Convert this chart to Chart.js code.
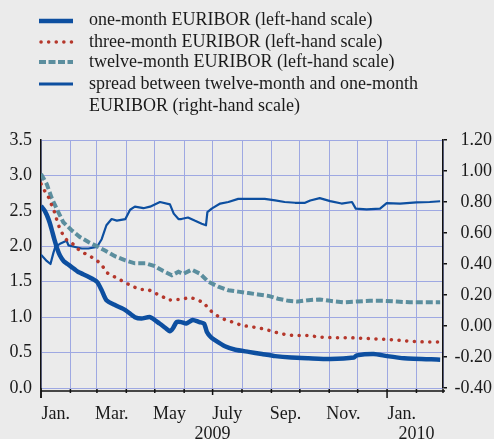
<!DOCTYPE html>
<html>
<head>
<meta charset="utf-8">
<script src="https://cdn.jsdelivr.net/npm/chart.js@4/dist/chart.umd.min.js"></script>
<style>
  html, body { margin: 0; padding: 0; background: #ebebeb; }
  #wrap { position: relative; width: 494px; height: 439px; overflow: hidden; }
  canvas { position: absolute; left: 0; top: 0; }
  .leg { position: absolute; left: 0; top: 0; font-family: "Liberation Serif", "Times New Roman", serif; font-size: 18px; color: #1a1a1a; }
  .row { position: absolute; left: 89px; white-space: nowrap; line-height: 21.5px; }
  .sw { position: absolute; left: 39px; }
</style>
</head>
<body>
<div id="wrap">
  <canvas id="c" width="494" height="439"></canvas>
  <div class="leg">
    <svg class="sw" style="top:15px" width="36" height="12"><line x1="0" y1="6" x2="34" y2="6" stroke="#0d4fa0" stroke-width="4.5"/></svg>
    <div class="row" style="top:9px">one-month EURIBOR (left-hand scale)</div>
    <svg class="sw" style="top:36px" width="36" height="12"><line x1="2" y1="6" x2="34" y2="6" stroke="#b5372b" stroke-width="3.5" stroke-linecap="round" stroke-dasharray="0.1 7.5"/></svg>
    <div class="row" style="top:31px">three-month EURIBOR (left-hand scale)</div>
    <svg class="sw" style="top:56px" width="36" height="12"><line x1="0" y1="6" x2="34" y2="6" stroke="#5b8e9e" stroke-width="4" stroke-dasharray="7 2.5"/></svg>
    <div class="row" style="top:51px">twelve-month EURIBOR (left-hand scale)</div>
    <svg class="sw" style="top:78px" width="36" height="12"><line x1="0" y1="6" x2="34" y2="6" stroke="#0d4fa0" stroke-width="3"/></svg>
    <div class="row" style="top:73px">spread between twelve-month and one-month<br>EURIBOR (right-hand scale)</div>
  </div>
</div>
<script>
// x values are days since 1 January 2009
const monthStarts = [0,31,59,90,120,151,181,212,243,273,304,334,365,396,424];
const monthLabels = ["Jan.","","Mar.","","May","","July","","Sep.","","Nov.","","Jan.",""];
const yearLabels = ["2009","2010"];
const yearDays = [181,396];
const leftTicks = [0,0.5,1,1.5,2,2.5,3,3.5];
const rightTicks = [-0.4,-0.2,0,0.2,0.4,0.6,0.8,1.0,1.2];

const oneMonthDays = [0,4,8,11,14,17,20,24,28,32,39,50,59,64,69,78,89,99,106,115,125,131,136,139,143,148,153,160,167,172,175,179,183,194,205,219,233,247,264,282,305,330,333,351,365,383,421];
const oneMonth =     [2.57,2.50,2.38,2.25,2.10,1.97,1.87,1.79,1.75,1.71,1.64,1.57,1.50,1.38,1.24,1.17,1.10,1.00,0.98,1.00,0.91,0.85,0.80,0.84,0.93,0.93,0.91,0.96,0.93,0.91,0.79,0.72,0.68,0.59,0.54,0.51,0.48,0.45,0.43,0.42,0.41,0.43,0.46,0.48,0.45,0.42,0.40];

const threeMonthDays = [0,4,8,11,14,16.5,19,22.5,27,34,39,46,53,59,65,69,76,83,90,97,105,113,120,127,134,141,148,157,164,172,176.5,182.5,189.5,197,204.6,212,220,228,236,244,252,260,268,284,292,308,326,342,358,373,389,405,421];
const threeMonth =     [2.88,2.78,2.69,2.59,2.49,2.38,2.28,2.18,2.09,2.03,1.96,1.90,1.85,1.80,1.72,1.63,1.58,1.53,1.48,1.43,1.39,1.39,1.34,1.30,1.24,1.25,1.25,1.28,1.25,1.20,1.12,1.05,0.99,0.95,0.92,0.88,0.87,0.85,0.83,0.80,0.77,0.75,0.74,0.74,0.72,0.71,0.71,0.70,0.69,0.68,0.66,0.65,0.65];

const twelveMonthDays = [0,6,11,16.5,23.5,32,41,50,59,67.5,78,89,99,110,120,129,138,145,150,159,168,176.5,187,197.6,208,218.7,229,240,250,261,271,282,294,305,319,333,347,361,375,389,403,421];
const twelveMonth =     [3.02,2.88,2.69,2.53,2.34,2.23,2.13,2.06,2.00,1.94,1.86,1.80,1.76,1.76,1.72,1.65,1.59,1.64,1.61,1.67,1.61,1.50,1.43,1.38,1.36,1.34,1.32,1.30,1.26,1.23,1.22,1.24,1.25,1.23,1.21,1.22,1.23,1.23,1.22,1.21,1.21,1.21];

const spreadDays = [0,6,10,13,15,20,23.5,27,29,36,43,50,59,64,69,74.5,80,89,94,99,108,115,125.5,136,140,145,148,155,162,169.5,174,175.5,180,189,197.6,208,222,236,247,257,268,278.5,284,294,305,317,328,332,343.5,357.6,364.6,378.7,396,410,421];
const spread =     [0.46,0.42,0.40,0.47,0.51,0.53,0.54,0.55,0.52,0.51,0.50,0.50,0.51,0.56,0.65,0.69,0.68,0.69,0.75,0.77,0.76,0.77,0.80,0.785,0.725,0.69,0.69,0.70,0.68,0.66,0.65,0.735,0.757,0.79,0.80,0.82,0.82,0.82,0.81,0.80,0.795,0.795,0.81,0.825,0.806,0.79,0.80,0.757,0.753,0.757,0.793,0.789,0.798,0.80,0.805];

const pts = (xs, ys) => xs.map((x, i) => ({ x: x, y: ys[i] }));
const FONT = '"Liberation Serif", "Times New Roman", serif';
const GRID = '#9ea8e2';

const axisPlugin = {
  id: 'axisDecor',
  afterDraw(chart) {
    const { ctx, chartArea: a, scales } = chart;
    const xs = scales.x;
    ctx.save();
    ctx.strokeStyle = '#111';
    ctx.lineWidth = 1.5;
    const yb = a.bottom + 3;
    ctx.beginPath();
    ctx.moveTo(a.left, yb); ctx.lineTo(a.right + 2, yb);
    ctx.moveTo(a.left, a.bottom); ctx.lineTo(a.left, yb + 7);
    ctx.stroke();
    monthStarts.forEach((d, i) => {
      const px = xs.getPixelForValue(d);
      const len = (i === 0 || i === 12) ? 7 : (i === 6 ? 4 : 2);
      ctx.beginPath(); ctx.moveTo(px, yb - 2); ctx.lineTo(px, yb + len); ctx.stroke();
    });
    ctx.fillStyle = '#1a1a1a';
    ctx.font = '18px ' + FONT;
    ctx.textAlign = 'center';
    ctx.textBaseline = 'alphabetic';
    monthLabels.forEach((t, i) => {
      if (!t) return;
      const mid = (monthStarts[i] + monthStarts[i + 1]) / 2;
      ctx.fillText(t, xs.getPixelForValue(mid), 419);
    });
    yearLabels.forEach((t, i) => ctx.fillText(t, xs.getPixelForValue(yearDays[i]), 439));
    ctx.restore();
  }
};

new Chart(document.getElementById('c'), {
  type: 'line',
  data: {
    datasets: [
      { label: 'one-month EURIBOR (left-hand scale)', data: pts(oneMonthDays, oneMonth), yAxisID: 'y',
        borderColor: '#0d4fa0', borderWidth: 4.5, pointRadius: 0, tension: 0.2, borderJoinStyle: 'round' },
      { label: 'three-month EURIBOR (left-hand scale)', data: pts(threeMonthDays, threeMonth), yAxisID: 'y',
        borderColor: '#b5372b', borderWidth: 3.5, borderDash: [0.1, 7.6], borderCapStyle: 'round', pointRadius: 0, tension: 0 },
      { label: 'twelve-month EURIBOR (left-hand scale)', data: pts(twelveMonthDays, twelveMonth), yAxisID: 'y',
        borderColor: '#5b8e9e', borderWidth: 4, borderDash: [7, 3], pointRadius: 0, tension: 0 },
      { label: 'spread between twelve-month and one-month EURIBOR (right-hand scale)', data: pts(spreadDays, spread), yAxisID: 'y1',
        borderColor: '#0d4fa0', borderWidth: 2.2, pointRadius: 0, tension: 0, borderJoinStyle: 'round' }
    ]
  },
  options: {
    responsive: false,
    animation: false,
    events: [],
    layout: { padding: { top: 140, left: 0, right: 2, bottom: 0 } },
    plugins: { legend: { display: false }, tooltip: { enabled: false } },
    scales: {
      x: {
        type: 'linear', min: 0, max: 424,
        afterBuildTicks: s => { s.ticks = monthStarts.map(v => ({ value: v })); },
        afterFit: s => { s.height = 51; },
        ticks: { display: false },
        grid: { color: GRID, lineWidth: 1, drawTicks: false },
        border: { display: false }
      },
      y: {
        position: 'left', min: 0, max: 3.5,
        afterBuildTicks: s => { s.ticks = leftTicks.map(v => ({ value: v })); },
        afterFit: s => { s.width = 41; },
        ticks: { padding: 9, color: '#1a1a1a', font: { family: FONT, size: 18 }, callback: v => v.toFixed(1) },
        grid: { color: GRID, lineWidth: 1, drawTicks: false },
        border: { display: true, color: '#111', width: 1.5 }
      },
      y1: {
        position: 'right', min: -0.4, max: 1.2,
        afterBuildTicks: s => { s.ticks = rightTicks.map(v => ({ value: v })); },
        afterFit: s => { s.width = 49; },
        ticks: { padding: 6, crossAlign: 'far', color: '#1a1a1a', font: { family: FONT, size: 18 }, callback: v => v.toFixed(2) },
        grid: { drawOnChartArea: false, drawTicks: true, tickLength: 4, color: '#111', lineWidth: 1.5 },
        border: { display: true, color: '#111', width: 1.5 }
      }
    }
  },
  plugins: [axisPlugin]
});
</script>
</body>
</html>
